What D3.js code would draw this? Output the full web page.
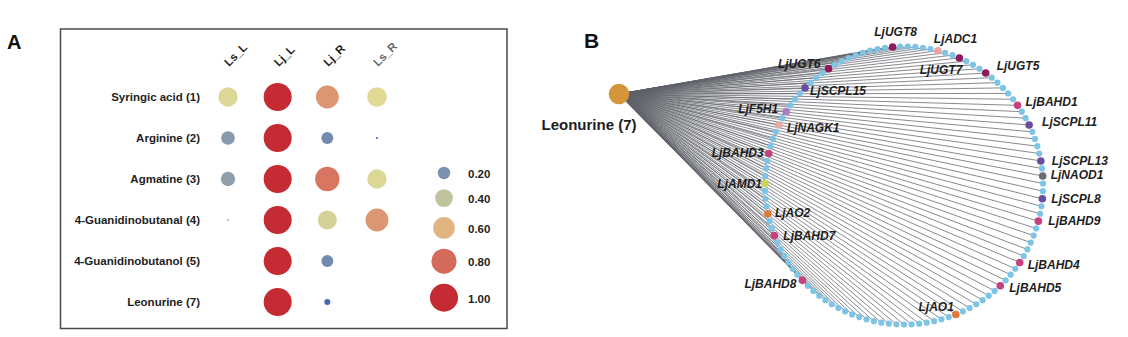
<!DOCTYPE html>
<html>
<head>
<meta charset="utf-8">
<script src="https://cdn.jsdelivr.net/npm/d3@7"></script>
<style>
  html, body { margin: 0; padding: 0; background: #fff; }
  svg { display: block; font-family: "Liberation Sans", Arial, sans-serif; }
</style>
</head>
<body>
<svg id="chart" width="1128" height="337"></svg>
<script>
// ---------------- Panel A data ----------------
const samples = ["Ls_L", "Lj_L", "Lj_R", "Ls_R"];
const compounds = ["Syringic acid (1)", "Arginine (2)", "Agmatine (3)",
  "4-Guanidinobutanal (4)", "4-Guanidinobutanol (5)", "Leonurine (7)"];
// relative abundance, rows = compounds, columns = samples
const valLsL = [0.48, 0.24, 0.26, 0.003, 0, 0];
const valLjL = [1.00, 1.00, 1.00, 1.00, 1.00, 1.00];
const valLjR = [0.67, 0.18, 0.76, 0.46, 0.18, 0.046];
const valLsR = [0.49, 0.005, 0.48, 0.67, 0, 0];
const legendValues = [0.20, 0.40, 0.60, 0.80, 1.00];
const legendLabels = ["0.20", "0.40", "0.60", "0.80", "1.00"];

// ---------------- Panel B data ----------------
const hubName = "Leonurine (7)";
const geneCount = 115;               // genes on the co-expression circle
// labelled genes and their rank in the circular order
const labeledGenes = ["LjUGT8", "LjADC1", "LjUGT7", "LjUGT5", "LjBAHD1", "LjSCPL11",
  "LjSCPL13", "LjNAOD1", "LjSCPL8", "LjBAHD9", "LjBAHD4", "LjBAHD5", "LjAO1",
  "LjBAHD8", "LjBAHD7", "LjAO2", "LjAMD1", "LjBAHD3", "LjNAGK1", "LjF5H1",
  "LjSCPL15", "LjUGT6"];
const labeledRanks = [113, 4, 7, 11, 17, 20, 25, 27, 30, 33, 39, 43, 50,
  72, 79, 82, 86, 90, 94, 96, 100, 104];
const geneFamily = ["UGT", "ADC", "UGT", "UGT", "BAHD", "SCPL", "SCPL", "NAOD",
  "SCPL", "BAHD", "BAHD", "BAHD", "AO", "BAHD", "BAHD", "AO", "AMD", "BAHD",
  "NAGK", "F5H", "SCPL", "UGT"];

// ---------------- styles ----------------
const familyColor = {
  UGT: "#8c1b5c", ADC: "#e9a3a2", BAHD: "#c7417f", SCPL: "#6a4d9e",
  NAOD: "#6c6e71", AO: "#e0783b", AMD: "#c8d45c", NAGK: "#eaa9a7", F5H: "#a97cbd"
};
// label placement: [anchor, dx, dy]
const labelPlace = {
  LjUGT8: ["middle", 3, -11], LjADC1: ["start", -4, -8], LjUGT7: ["end", 3, 16],
  LjUGT5: ["start", 11, -3], LjBAHD1: ["start", 8, 1], LjSCPL11: ["start", 13, 1],
  LjSCPL13: ["start", 11, 4], LjNAOD1: ["start", 8, 3], LjSCPL8: ["start", 9, 4],
  LjBAHD9: ["start", 10, 4], LjBAHD4: ["start", 8, 6], LjBAHD5: ["start", 9, 6],
  LjAO1: ["end", -2, -3], LjBAHD8: ["end", -6, 8], LjBAHD7: ["start", 9, 4],
  LjAO2: ["start", 7, 3], LjAMD1: ["end", -3, 4], LjBAHD3: ["end", -5, 3],
  LjNAGK1: ["start", 8, 7], LjF5H1: ["end", -8, 1], LjSCPL15: ["start", 5, 7],
  LjUGT6: ["end", -8, -1]
};

const svg = d3.select("#chart");
svg.append("rect").attr("width", 1128).attr("height", 337).attr("fill", "#fff");

// =============== Panel A ===============
const gA = svg.append("g");
gA.append("text").attr("x", 7).attr("y", 49).text("A")
  .attr("font-size", 20).attr("font-weight", "bold").attr("fill", "#111");
gA.append("rect").attr("x", 60.5).attr("y", 29).attr("width", 446.5).attr("height", 299.5)
  .attr("fill", "none").attr("stroke", "#4a4a4a").attr("stroke-width", 1.5);

const x = d3.scalePoint().domain(samples).range([228, 377]);
const y = d3.scalePoint().domain(compounds).range([97, 302]);
const r = d3.scaleSqrt().domain([0, 1]).range([0, 14]);
const color = d3.scaleLinear()
  .domain([0, 0.2, 0.5, 0.7, 1])
  .range(["#3b5cb8", "#7990ae", "#e4dc94", "#dc8a6c", "#c52b33"]);

const columns = [valLsL, valLjL, valLjR, valLsR];
const cells = [];
compounds.forEach((c, i) => samples.forEach((s, j) => cells.push({ c, s, v: columns[j][i] })));

gA.selectAll("circle.cell").data(cells.filter(d => d.v > 0)).join("circle")
  .attr("class", "cell")
  .attr("cx", d => x(d.s)).attr("cy", d => y(d.c))
  .attr("r", d => Math.max(r(d.v), 0.6))
  .attr("fill", d => color(d.v));

gA.selectAll("text.row").data(compounds).join("text")
  .attr("class", "row")
  .attr("x", 200).attr("y", d => y(d)).attr("dy", "0.36em")
  .attr("text-anchor", "end").attr("font-size", 11.5).attr("font-weight", "bold")
  .attr("fill", "#1e1e1e").text(d => d);

gA.selectAll("text.col").data(samples).join("text")
  .attr("class", "col")
  .attr("transform", d => `translate(${x(d) + 1},67) rotate(-45)`)
  .attr("font-size", 11.5).attr("font-weight", "bold")
  .attr("fill", d => d === "Ls_R" ? "#6a6a6a" : "#1e1e1e").text(d => d);

// legend
let ly = 173;
const legendY = legendValues.map((v, i) => {
  if (i > 0) ly += r(legendValues[i - 1]) + r(v) + 10;
  return ly;
});
gA.selectAll("circle.leg").data(legendValues).join("circle")
  .attr("class", "leg")
  .attr("cx", 444).attr("cy", (d, i) => legendY[i])
  .attr("r", d => r(d)).attr("fill", d => color(d));
gA.selectAll("text.leg").data(legendLabels).join("text")
  .attr("class", "leg")
  .attr("x", 468).attr("y", (d, i) => legendY[i] + 1).attr("dy", "0.36em")
  .attr("font-size", 11.5).attr("font-weight", "bold").attr("fill", "#1e1e1e")
  .text(d => d);

// =============== Panel B ===============
const gB = svg.append("g");
gB.append("text").attr("x", 584).attr("y", 48).text("B")
  .attr("font-size", 21).attr("font-weight", "bold").attr("fill", "#111");

const cx = 904, cy = 185.5, R = 139;
const hub = { x: 619, y: 94 };
const angle = d3.scaleLinear().domain([0, geneCount]).range([-Math.PI / 2, 1.5 * Math.PI]);
const nodes = d3.range(geneCount).map(k => {
  const a = angle(k + 0.5);
  const li = labeledRanks.indexOf(k);
  return {
    k, x: cx + R * Math.cos(a), y: cy + R * Math.sin(a),
    name: li >= 0 ? labeledGenes[li] : null,
    fam: li >= 0 ? geneFamily[li] : null
  };
});

gB.selectAll("line.edge").data(nodes).join("line")
  .attr("class", "edge")
  .attr("x1", hub.x).attr("y1", hub.y)
  .attr("x2", d => d.x).attr("y2", d => d.y)
  .attr("stroke", "#60636a").attr("stroke-width", 0.75);

gB.selectAll("circle.node").data(nodes).join("circle")
  .attr("class", "node")
  .attr("cx", d => d.x).attr("cy", d => d.y)
  .attr("r", d => d.name ? 3.8 : 3.1)
  .attr("fill", d => d.name ? familyColor[d.fam] : "#7ec4e6");

gB.selectAll("text.gene").data(nodes.filter(d => d.name)).join("text")
  .attr("class", "gene")
  .attr("x", d => d.x + labelPlace[d.name][1])
  .attr("y", d => d.y + labelPlace[d.name][2])
  .attr("text-anchor", d => labelPlace[d.name][0])
  .attr("font-size", 12).attr("font-weight", "bold").attr("font-style", "italic")
  .attr("fill", "#1e1e1e").text(d => d.name);

gB.append("circle").attr("cx", hub.x).attr("cy", hub.y).attr("r", 10.3).attr("fill", "#d4963a");
gB.append("text").attr("x", 589).attr("y", 130).attr("text-anchor", "middle")
  .attr("font-size", 15).attr("font-weight", "bold").attr("fill", "#1e1e1e").text(hubName);
</script>
</body>
</html>
